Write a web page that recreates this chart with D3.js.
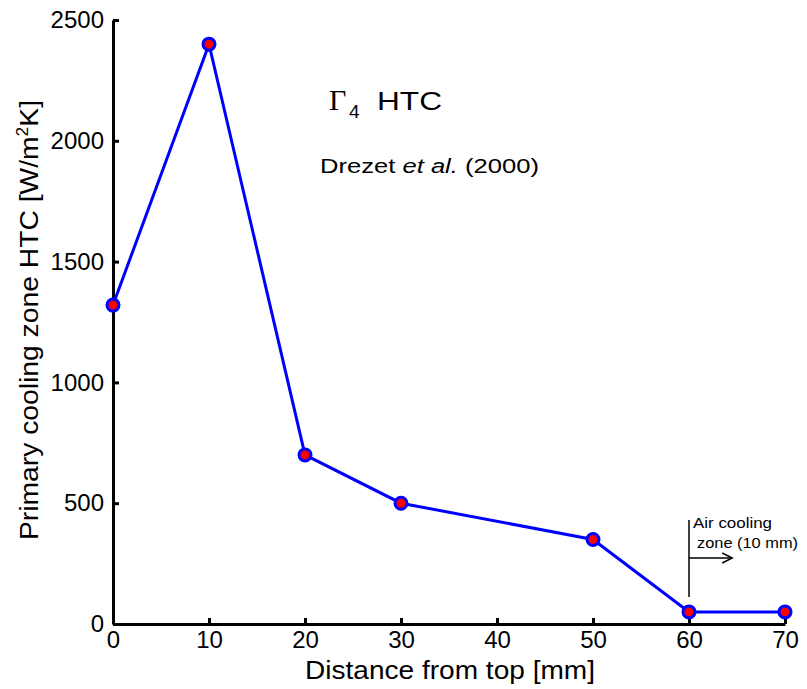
<!DOCTYPE html>
<html lang="en">
<head>
  <meta charset="UTF-8">
  <title>Primary cooling zone HTC</title>
  <style>
    body {
      margin: 0;
      padding: 0;
      background: #fff;
    }
    svg text {
      font-family: Arial, "Liberation Sans", sans-serif;
      fill: #000;
    }
  </style>
</head>
<body>
  <svg id="chart" width="807" height="689"></svg>

  <script src="https://d3js.org/d3.v7.min.js"></script>
  <script>
    // data
    const distance = [0, 10, 20, 30, 50, 60, 70];
    const htc = [1320, 2400, 700, 500, 350, 50, 50];
    const xTicks = [0, 10, 20, 30, 40, 50, 60, 70];
    const yTicks = [0, 500, 1000, 1500, 2000, 2500];
    const airZone = { x: 60, y0: 112, y1: 430, arrowY: 273, arrowTo: 64.5 };

    const svg = d3.select('#chart');

    const x = d3.scaleLinear().domain([0, 70]).range([113, 785]);
    const y = d3.scaleLinear().domain([0, 2500]).range([624, 20]);

    // axes, ticks pointing inward like matlab
    const xAxis = d3.axisBottom(x).tickValues(xTicks).tickSize(-6).tickPadding(7)
      .tickSizeOuter(0).tickFormat(d3.format('d'));
    const yAxis = d3.axisLeft(y).tickValues(yTicks).tickSize(-6).tickPadding(9)
      .tickSizeOuter(0).tickFormat(d3.format('d'));

    const gx = svg.append('g').attr('transform', `translate(0,${y(0)})`).call(xAxis);
    const gy = svg.append('g').attr('transform', `translate(${x(0)},0)`).call(yAxis);

    [gx, gy].forEach(g => {
      g.attr('font-size', null).attr('font-family', null);
      g.select('.domain').attr('stroke', '#000').attr('stroke-width', 3);
      g.selectAll('.tick line').attr('stroke', '#000').attr('stroke-width', 3);
      g.selectAll('.tick text').style('font-size', '24px');
    });

    // axis titles
    svg.append('text')
      .attr('x', 450).attr('y', 679)
      .attr('text-anchor', 'middle')
      .style('font-size', '26px')
      .attr('textLength', 290)
      .attr('lengthAdjust', 'spacingAndGlyphs')
      .text('Distance from top [mm]');

    const yl = svg.append('text')
      .attr('transform', 'translate(38,320) rotate(-90)')
      .attr('text-anchor', 'middle')
      .style('font-size', '26px')
      .attr('textLength', 440)
      .attr('lengthAdjust', 'spacingAndGlyphs');
    yl.append('tspan').text('Primary cooling zone HTC [W/m');
    yl.append('tspan').style('font-size', '16px').attr('dy', -10).text('2');
    yl.append('tspan').attr('dy', 10).text('K]');

    // series line
    const pts = distance.map((d, i) => [d, htc[i]]);
    const line = d3.line().x(d => x(d[0])).y(d => y(d[1]));
    svg.append('path')
      .datum(pts)
      .attr('fill', 'none')
      .attr('stroke', '#0000ff')
      .attr('stroke-width', 3)
      .attr('d', line);

    svg.selectAll('.pt')
      .data(pts)
      .enter()
      .append('circle')
      .attr('class', 'pt')
      .attr('cx', d => x(d[0]))
      .attr('cy', d => y(d[1]))
      .attr('r', 6)
      .attr('fill', '#ff0000')
      .attr('stroke', '#0000ff')
      .attr('stroke-width', 3);

    // title: Gamma_4 HTC
    svg.append('text').attr('x', 329).attr('y', 110)
      .style('font-family', '"Liberation Serif", "DejaVu Serif", serif')
      .style('font-size', '30px').text('Γ');
    svg.append('text').attr('x', 349).attr('y', 118)
      .style('font-size', '19px').text('4');
    svg.append('text').attr('x', 377).attr('y', 110)
      .style('font-size', '26px')
      .attr('textLength', 65).attr('lengthAdjust', 'spacingAndGlyphs')
      .text('HTC');

    const s = svg.append('text').attr('x', 320).attr('y', 173)
      .style('font-size', '20px')
      .attr('textLength', 219).attr('lengthAdjust', 'spacingAndGlyphs');
    s.append('tspan').text('Drezet ');
    s.append('tspan').attr('font-style', 'italic').text('et al.');
    s.append('tspan').text(' (2000)');

    // air cooling zone annotation
    svg.append('line')
      .attr('x1', x(airZone.x)).attr('x2', x(airZone.x))
      .attr('y1', y(airZone.y0)).attr('y2', y(airZone.y1))
      .attr('stroke', '#000').attr('stroke-width', 1.5);
    svg.append('line')
      .attr('x1', x(airZone.x)).attr('x2', x(airZone.arrowTo))
      .attr('y1', y(airZone.arrowY)).attr('y2', y(airZone.arrowY))
      .attr('stroke', '#000').attr('stroke-width', 1.5);
    const ax = x(airZone.arrowTo), ay = y(airZone.arrowY);
    svg.append('path')
      .attr('d', `M${ax - 10},${ay - 5} L${ax},${ay} L${ax - 10},${ay + 5}`)
      .attr('fill', 'none').attr('stroke', '#000').attr('stroke-width', 1.5);

    svg.append('text').attr('x', 693).attr('y', 528).style('font-size', '15px')
      .attr('textLength', 79).attr('lengthAdjust', 'spacingAndGlyphs').text('Air cooling');
    svg.append('text').attr('x', 697).attr('y', 548).style('font-size', '15px')
      .attr('textLength', 101).attr('lengthAdjust', 'spacingAndGlyphs').text('zone (10 mm)');
  </script>
</body>
</html>
